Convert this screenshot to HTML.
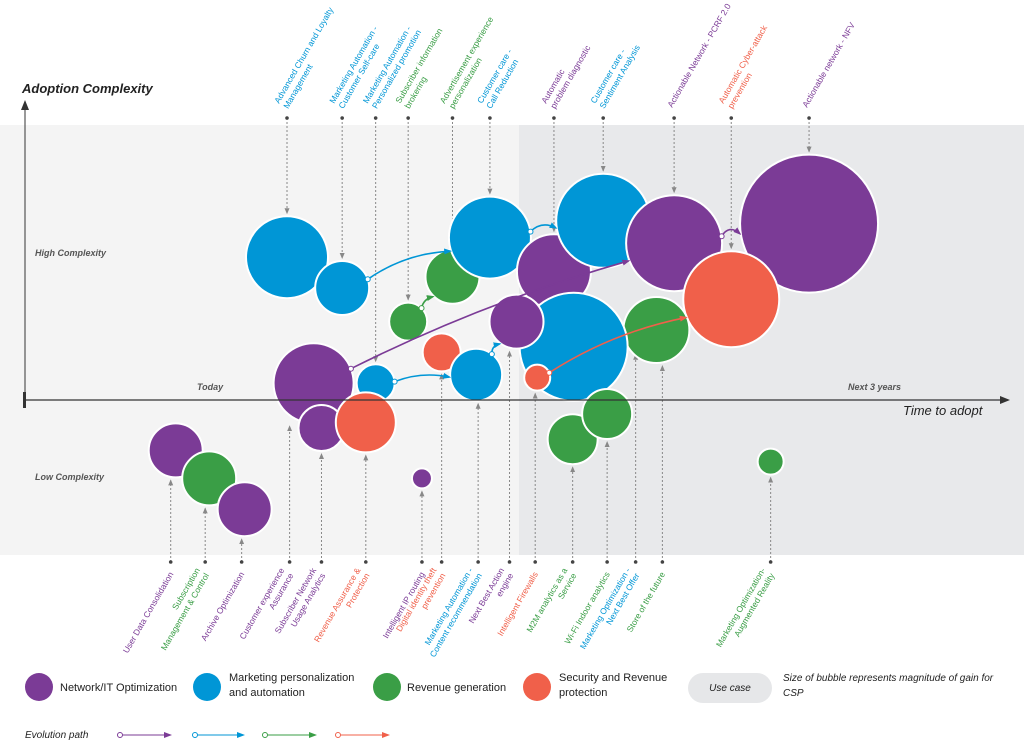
<!DOCTYPE html>
<html><head><meta charset="utf-8"><style>
body{margin:0;background:#fff;}
svg{display:block;font-family:"Liberation Sans",sans-serif;}
</style></head><body>
<svg id="chart" width="1024" height="742" viewBox="0 0 1024 742">
<defs>
<marker id="ahP" markerUnits="userSpaceOnUse" markerWidth="8" markerHeight="8" refX="6" refY="4" orient="auto"><path d="M0,1 L8,4 L0,7 z" fill="#7b3b96"/></marker>
<marker id="ahB" markerUnits="userSpaceOnUse" markerWidth="8" markerHeight="8" refX="6" refY="4" orient="auto"><path d="M0,1 L8,4 L0,7 z" fill="#0096d6"/></marker>
<marker id="ahG" markerUnits="userSpaceOnUse" markerWidth="8" markerHeight="8" refX="6" refY="4" orient="auto"><path d="M0,1 L8,4 L0,7 z" fill="#3a9e46"/></marker>
<marker id="ahO" markerUnits="userSpaceOnUse" markerWidth="8" markerHeight="8" refX="6" refY="4" orient="auto"><path d="M0,1 L8,4 L0,7 z" fill="#f0604a"/></marker>
<marker id="ahK" markerUnits="userSpaceOnUse" markerWidth="10" markerHeight="10" refX="8" refY="5" orient="auto"><path d="M0,1 L10,5 L0,9 z" fill="#333"/></marker>
<marker id="ahS" markerUnits="userSpaceOnUse" markerWidth="6" markerHeight="6" refX="5" refY="3" orient="auto"><path d="M0,0.5 L6,3 L0,5.5 z" fill="#888"/></marker>
</defs>
<rect x="0" y="125" width="1024" height="430" fill="#f4f4f4"/>
<rect x="519" y="125" width="505" height="430" fill="#e8e9eb"/>
<g id="leaders"></g>
<g id="bubbles"></g>
<g id="arrows"></g>
<g id="labels"></g>
<line x1="25" y1="400" x2="1008" y2="400" stroke="#333" stroke-width="1.2" marker-end="url(#ahK)"/>
<line x1="25" y1="400" x2="25" y2="102" stroke="#333" stroke-width="1" marker-end="url(#ahK)"/>
<rect x="23" y="392" width="3" height="16" fill="#333"/>
<text x="22" y="93" font-size="13" font-style="italic" font-weight="bold" fill="#222">Adoption Complexity</text>
<text x="903" y="415" font-size="13" font-style="italic" fill="#222">Time to adopt</text>
<text x="197" y="390" font-size="9" font-style="italic" font-weight="bold" fill="#555">Today</text>
<text x="848" y="390" font-size="9" font-style="italic" font-weight="bold" fill="#555">Next 3 years</text>
<text x="35" y="256" font-size="9" font-style="italic" font-weight="bold" fill="#555">High Complexity</text>
<text x="35" y="480" font-size="9" font-style="italic" font-weight="bold" fill="#555">Low Complexity</text>
<g font-size="11" fill="#222">
<circle cx="39" cy="687" r="14" fill="#7b3b96"/>
<text x="60" y="691">Network/IT Optimization</text>
<circle cx="207" cy="687" r="14" fill="#0096d6"/>
<text x="229" y="681">Marketing personalization<tspan x="229" dy="15">and automation</tspan></text>
<circle cx="387" cy="687" r="14" fill="#3a9e46"/>
<text x="407" y="691">Revenue generation</text>
<circle cx="537" cy="687" r="14" fill="#f0604a"/>
<text x="559" y="681">Security and Revenue<tspan x="559" dy="15">protection</tspan></text>
<rect x="688" y="673" width="84" height="30" rx="15" fill="#e6e7e9"/>
<text x="730" y="691" text-anchor="middle" font-size="10" font-style="italic">Use case</text>
<text x="783" y="681" font-size="10" font-style="italic">Size of bubble represents magnitude of gain for<tspan x="783" dy="15">CSP</tspan></text>
<text x="25" y="738" font-size="10" font-style="italic">Evolution path</text>
<g>
<circle cx="120" cy="735" r="2.5" fill="#fff" stroke="#7b3b96"/><line x1="123" y1="735" x2="170" y2="735" stroke="#7b3b96" marker-end="url(#ahP)"/>
<circle cx="195" cy="735" r="2.5" fill="#fff" stroke="#0096d6"/><line x1="198" y1="735" x2="243" y2="735" stroke="#0096d6" marker-end="url(#ahB)"/>
<circle cx="265" cy="735" r="2.5" fill="#fff" stroke="#3a9e46"/><line x1="268" y1="735" x2="315" y2="735" stroke="#3a9e46" marker-end="url(#ahG)"/>
<circle cx="338" cy="735" r="2.5" fill="#fff" stroke="#f0604a"/><line x1="341" y1="735" x2="388" y2="735" stroke="#f0604a" marker-end="url(#ahO)"/>
</g>
</g>
</svg>
<script>
const names=["Advanced Churn","Customer Self-care","Subscriber information brokering","Advertisement experience","Call Reduction","Automatic problem diagnostic","Sentiment Analysis","PCRF 2.0","NFV","Cyber-attack prevention","Store of the future","Next Best Offer","Next Best Action engine","Digital identity theft","Content recommendation","Intelligent Firewalls","Customer experience Assurance","Personalized promotion","Subscriber Network Usage","Revenue Assurance","M2M analytics","Wi-Fi Indoor analytics","User Data Consolidation","Subscription Management","Archive Optimization","Intelligent IP routing","Augmented Reality"];
const xVals=[266,322,389,434,472,537,587,659,796,717,641,557,499,423,458,520,293,356,301,346,556,591,153,187,223,403,757];
const yVals=[51,40,28,44,58,46,64,56,63,36,25,19,28,17,9,8,6,6,-10,-8,-14,-5,-18,-28,-39,-28,-22];
const sizes=[41,27,19,27,41,37,47,48,69,48,33,54,27,19,26,13,40,19,23,30,25,25,27,27,27,10,13];
const cats=["B","B","G","G","B","P","B","P","P","O","G","B","P","O","B","O","P","B","P","O","G","G","P","G","P","P","G"];
const topLabels=[[0,"Advanced Churn and Loyalty","Management"],[1,"Marketing Automation -","Customer Self-care"],[17,"Marketing Automation -","Personalized promotion"],[2,"Subscriber information","brokering"],[3,"Advertisement experience","personalization"],[4,"Customer care -","Call Reduction"],[5,"Automatic","problem diagnostic"],[6,"Customer care -","Sentiment Analysis"],[7,"Actionable Network - PCRF 2.0",""],[9,"Automatic Cyber-attack","prevention"],[8,"Actionable network - NFV",""]];
const bottomLabels=[[22,"User Data Consolidation",""],[23,"Subscription","Management & Control"],[24,"Archive Optimization",""],[16,"Customer experience","Assurance"],[18,"Subscriber Network","Usage Analytics"],[19,"Revenue Assurance &","Protection"],[25,"Intelligent IP routing",""],[13,"Digital identity theft","prevention"],[14,"Marketing Automation -","Content recommendation"],[12,"Next Best Action","engine"],[15,"Intelligent Firewalls",""],[20,"M2M analytics as a","Service"],[21,"Wi-Fi Indoor analytics",""],[11,"Marketing Optimization -","Next Best Offer"],[10,"Store of the future",""],[26,"Marketing Optimization-","Augmented Reality"]];
const bottomDx=[-5,-4,-3,-24,0,0,0,0,2,-7,-2,0,0,62,6,0];
const arrowsFrom=[1,4,7,2,17,14,16,15];
const arrowsTo=[4,6,8,3,14,12,7,9];
const colors={P:"#7b3b96",B:"#0096d6",G:"#3a9e46",O:"#f0604a"};
const markers={P:"ahP",B:"ahB",G:"ahG",O:"ahO"};
const xScale=v=>25+v*0.985;
const yScale=v=>400-v*2.8;
const NS="http://www.w3.org/2000/svg";
function mk(tag,attrs,parent){const e=document.createElementNS(NS,tag);for(const k in attrs)e.setAttribute(k,attrs[k]);parent.appendChild(e);return e;}
const gB=document.getElementById("bubbles"),gL=document.getElementById("labels"),gLead=document.getElementById("leaders"),gA=document.getElementById("arrows");
names.forEach((n,i)=>{
  const c=mk("circle",{cx:xScale(xVals[i]),cy:yScale(yVals[i]),r:sizes[i],fill:colors[cats[i]],stroke:"#fff","stroke-width":2},gB);
  
  
});
arrowsFrom.forEach((f,k)=>{
  const t=arrowsTo[k];
  const x1=xScale(xVals[f]),y1=yScale(yVals[f]),x2=xScale(xVals[t]),y2=yScale(yVals[t]);
  const d=Math.hypot(x2-x1,y2-y1);const ux=(x2-x1)/d,uy=(y2-y1)/d;
  const sx=x1+ux*sizes[f],sy=y1+uy*sizes[f],ex=x2-ux*(sizes[t]+1),ey=y2-uy*(sizes[t]+1);
  const bend=Math.min(14,d*0.08);
  const mx=(sx+ex)/2+uy*bend,my=(sy+ey)/2-ux*bend;
  const col=colors[cats[f]];
  const p=mk("path",{d:`M${sx},${sy} Q${mx},${my} ${ex},${ey}`,fill:"none",stroke:col,"stroke-width":1.6,"marker-end":`url(#${markers[cats[f]]})`},gA);
  
  
  const o=mk("circle",{cx:sx,cy:sy,r:2.5,fill:"#fff",stroke:col},gA);
  
  
});
topLabels.forEach(([i,l1,l2])=>{
  const x=xScale(xVals[i]);const cy=yScale(yVals[i])-sizes[i];
  const ln=mk("line",{x1:x,y1:118,x2:x,y2:cy-3,stroke:"#888","stroke-dasharray":"2,2","marker-end":"url(#ahS)"},gLead);
  
  
  const dot=mk("circle",{cx:x,cy:118,r:1.8,fill:"#444"},gLead);
  
  
  const t=mk("text",{transform:`translate(${x-(l2?8:2)},${l2?104:108}) rotate(-60)`,"font-size":8.5,fill:colors[cats[i]]},gL);
  
  
  const s1=mk("tspan",{x:0,y:0},t);s1.textContent=l1;
  if(l2){const s2=mk("tspan",{x:0,dy:10.5},t);s2.textContent=l2;}
});
bottomLabels.forEach(([i,l1,l2],k)=>{
  const x=xScale(xVals[i])+bottomDx[k];const by=yScale(yVals[i])+sizes[i];
  const endY=bottomDx[k]>30?yScale(yVals[i])+8:by+3;
  const ln=mk("line",{x1:x,y1:562,x2:x,y2:endY,stroke:"#888","stroke-dasharray":"2,2","marker-end":"url(#ahS)"},gLead);
  
  
  const dot=mk("circle",{cx:x,cy:562,r:1.8,fill:"#444"},gLead);
  
  
  const t=mk("text",{transform:`translate(${x+(l2?-5:3)},${l2?570:574}) rotate(-60)`,"font-size":8.5,fill:colors[cats[i]],"text-anchor":"end"},gL);
  
  
  const s1=mk("tspan",{x:0,y:0},t);s1.textContent=l1;
  if(l2){const s2=mk("tspan",{x:0,dy:10.5},t);s2.textContent=l2;}
});
</script>
</body></html>
